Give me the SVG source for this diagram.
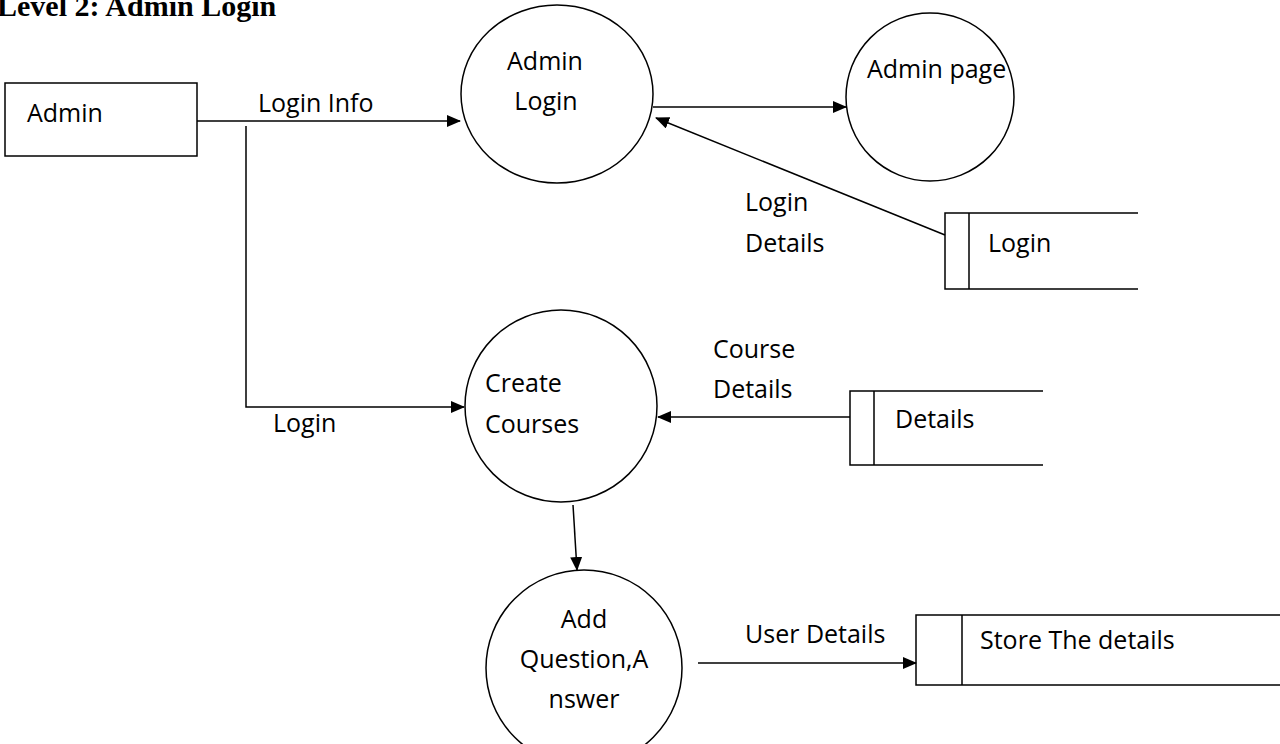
<svg xmlns="http://www.w3.org/2000/svg" width="1280" height="744" viewBox="0 0 1280 744">
<style>
.t{font-family:"Open Sans","Liberation Sans",sans-serif;font-size:25px;fill:#000}
.m{text-anchor:middle}
.title{font-family:"Liberation Serif","Times New Roman",serif;font-size:30px;font-weight:bold;fill:#000}
.s{fill:none;stroke:#000;stroke-width:1.5}
.c{fill:none;stroke:#000;stroke-width:1.5}
</style>
<defs>
<marker id="ah" markerWidth="14" markerHeight="12" refX="13" refY="6" orient="auto" markerUnits="userSpaceOnUse">
<path d="M0,0 L14,6 L0,12 Z" fill="#000"/>
</marker>
</defs>
<rect width="1280" height="744" fill="#fff"/>
<text class="title" x="-3" y="16">Level 2: Admin Login</text>

<g id="admin">
<rect class="s" x="5" y="83" width="192" height="73"/>
<text class="t" x="27" y="122">Admin</text>
</g>
<g id="admin-login">
<ellipse class="s" cx="557" cy="94" rx="96" ry="89"/>
<text class="t m" x="545" y="70">Admin</text>
<text class="t m" x="546" y="110">Login</text>
</g>
<g id="admin-page">
<circle class="s" cx="930" cy="97" r="84"/>
<text class="t" x="867" y="78">Admin page</text>
</g>
<g id="login-store">
<path class="s" d="M1138,213 H945 V289 H1138 M969,213 V289"/>
<text class="t" x="988" y="252">Login</text>
</g>
<g id="create-courses">
<circle class="s" cx="561" cy="406" r="96"/>
<text class="t" x="485" y="392">Create</text>
<text class="t" x="485" y="433">Courses</text>
</g>
<g id="details-store">
<path class="s" d="M1043,391 H850 V465 H1043 M874,391 V465"/>
<text class="t" x="895" y="428">Details</text>
</g>
<g id="add-question">
<ellipse class="s" cx="584" cy="668" rx="98" ry="98"/>
<text class="t m" x="584" y="628">Add</text>
<text class="t m" x="584" y="668">Question,A</text>
<text class="t m" x="584" y="708">nswer</text>
</g>
<g id="store-details">
<path class="s" d="M1280,615 H916 V685 H1280 M962,615 V685"/>
<text class="t" x="980" y="649">Store The details</text>
</g>

<g id="connectors">
<line class="c" x1="197" y1="121" x2="460" y2="121" marker-end="url(#ah)"/>
<text class="t" x="258" y="112">Login Info</text>
<polyline class="c" points="246,126 246,407 464,407" marker-end="url(#ah)"/>
<text class="t" x="273" y="432">Login</text>
<line class="c" x1="653" y1="107" x2="846" y2="107" marker-end="url(#ah)"/>
<line class="c" x1="945" y1="235" x2="656" y2="118" marker-end="url(#ah)" stroke-width="1"/>
<text class="t" x="745" y="211">Login</text>
<text class="t" x="745" y="252">Details</text>
<line class="c" x1="850" y1="417" x2="658" y2="417" marker-end="url(#ah)"/>
<text class="t" x="713" y="358">Course</text>
<text class="t" x="713" y="398">Details</text>
<line class="c" x1="573" y1="505" x2="577" y2="570" marker-end="url(#ah)"/>
<line class="c" x1="698" y1="663" x2="916" y2="663" marker-end="url(#ah)"/>
<text class="t" x="745" y="643">User Details</text>
</g>
</svg>
